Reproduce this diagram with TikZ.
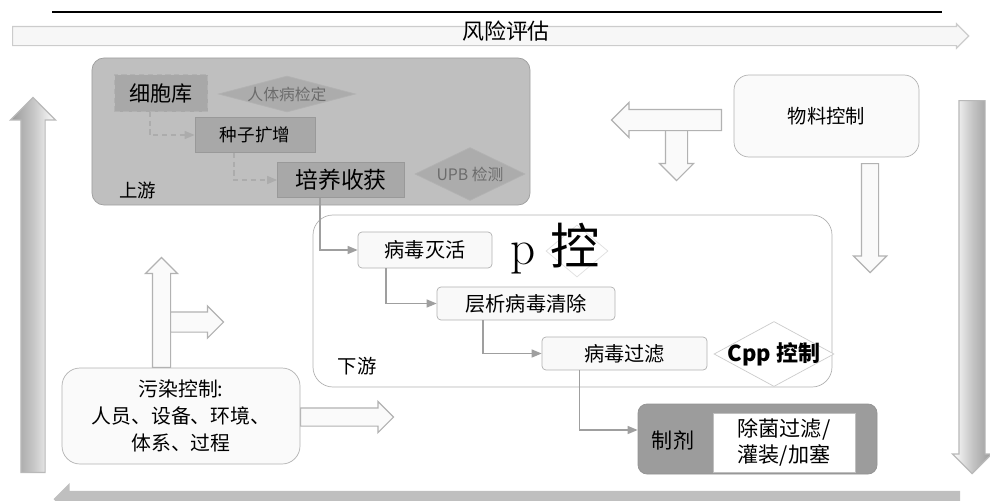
\documentclass[tikz,border=0pt]{standalone}
\usepackage{fontspec}
\usetikzlibrary{arrows.meta,shapes.geometric,shapes.arrows}
\newfontfamily\cjk{Noto Sans CJK SC}
\newcommand{\zh}[2]{\cjk\fontsize{#1pt}{#2pt}\selectfont}

\tikzset{
  stepbox/.style={rectangle, draw=gray!80, fill=gray!68, inner sep=0pt, font=\zh{12}{14}},
  stagebox/.style={rectangle, rounded corners=2.4mm, draw=gray!75, inner sep=0pt},
  flowbox/.style={rectangle, rounded corners=0.8mm, draw=gray!60, fill=gray!5, inner sep=0pt, font=\zh{11.5}{14}},
  gate/.style={diamond, inner sep=0pt, draw=gray!60, fill=gray!65},
  gatetext/.style={font=\zh{9}{11}, text=gray!85!black},
  hollow/.style={single arrow, draw=gray!60, fill=gray!4, line width=0.7pt, inner xsep=0pt},
  seedline/.style={draw=gray!65, densely dashed, line width=0.8pt, -{Triangle[length=2mm,width=1.6mm]}},
  flowline/.style={draw=gray!75, line width=0.8pt, -{Triangle[length=2mm,width=1.6mm]}}
}

\begin{document}
\begin{tikzpicture}[x=0.2mm,y=-0.2mm]
\useasboundingbox (0,0) rectangle (990,500);

% Rahmen oben, Risikobalken
\draw[line width=1.1pt] (52,12) -- (942,12);
\node[hollow, fill=gray!6, draw=gray!40, inner ysep=1.8mm, single arrow head extend=0.5mm,
      minimum height=191.2mm, anchor=tail] (riskbar) at (12,36) {};
\node[font=\zh{12.5}{15}] (risk) at (506,31) {风险评估};

% Seitenpfeile
\node[hollow, draw=gray!55, left color=gray!80, right color=white, middle color=gray!45,
      inner ysep=2.3mm, single arrow head extend=2.1mm, minimum height=75mm,
      rotate=90, anchor=tail] (leftbar) at (33,473) {};
\node[hollow, draw=gray!55, left color=white, right color=gray!80, middle color=gray!45,
      inner ysep=2.5mm, single arrow head extend=1.3mm, minimum height=74.6mm,
      rotate=-90, anchor=tail] (rightbar) at (972,100) {};
\node[hollow, draw=gray!50, fill=gray!50, inner ysep=1.4mm, single arrow head extend=1.4mm,
      minimum height=181mm, rotate=180, anchor=tail] (bottombar) at (960,499) {};

% Upstream
\node[stagebox, fill=gray!50, minimum width=87.6mm, minimum height=29.4mm] (up) at (311,131.5) {};
\node[font=\zh{10.5}{12}, anchor=west] (uplabel) at (113,190) {上游};
\node[stepbox, draw=gray!60, densely dashed, minimum width=18.6mm, minimum height=7.4mm] (cellbank) at (161,93) {细胞库};
\node[gate, minimum width=27.4mm, minimum height=7.2mm, label={[gatetext]center:人体病检定}] (qcone) at (287,94) {};
\node[stepbox, font=\zh{10}{12}, minimum width=24mm, minimum height=7mm] (seed) at (255,135) {种子扩增};
\node[stepbox, font=\zh{13}{15}, minimum width=25.4mm, minimum height=7mm] (harvest) at (341,180) {培养收获};
\node[gate, minimum width=22mm, minimum height=10.6mm, label={[gatetext]center:UPB 检测}] (upb) at (470,174) {};
\draw[seedline] ([xshift=-2.2mm]cellbank.south) |- (seed.west);
\draw[seedline] ([xshift=-4.2mm]seed.south) |- (harvest.west);

% Materialkontrolle
\node[stagebox, rounded corners=3mm, fill=gray!4, draw=gray!60, minimum width=37mm, minimum height=16.4mm,
      font=\zh{11}{13}] (material) at (826.5,116) {物料控制};
\node[hollow, inner ysep=2.1mm, single arrow head extend=1.2mm, minimum height=10.4mm,
      rotate=-90, anchor=tail] (matdown) at (676.5,128) {};
\node[hollow, inner ysep=2mm, single arrow head extend=1.4mm, minimum height=22mm,
      rotate=180, anchor=tail] (matleft) at (722,120) {};
\node[hollow, inner ysep=1.6mm, single arrow head extend=1.6mm, minimum height=21.8mm,
      rotate=-90, anchor=tail] (matdown2) at (870,163) {};

% Downstream
\node[stagebox, rounded corners=4mm, fill=white, draw=gray!60, minimum width=103.8mm, minimum height=34.4mm] (down) at (572.5,301) {};
\node[font=\zh{11}{13}] (downlabel) at (357,366) {下游};
\node[flowbox, minimum width=26.8mm, minimum height=7.2mm] (inact) at (425,250) {病毒灭活};
\node[gate, draw=gray!25, fill=white, minimum width=12.4mm, minimum height=10.4mm] (pgate) at (577,251) {};
\node[font=\fontsize{28pt}{30pt}\selectfont] (pctrl) at (555,249) {p {\cjk 控}};
\node[flowbox, minimum width=35.6mm, minimum height=6.6mm] (chrom) at (526,303.5) {层析病毒清除};
\node[flowbox, minimum width=33mm, minimum height=6.6mm] (filt) at (624.5,353.5) {病毒过滤};
\node[gate, draw=gray!40, fill=white, minimum width=24mm, minimum height=13mm,
      label={[font=\zh{12.5}{14}\bfseries]center:Cpp 控制}] (cpp) at (774,354) {};
\draw[flowline] ([xshift=-4.2mm]harvest.south) |- (inact.west);
\draw[flowline] ([xshift=-7.8mm]inact.south) |- (chrom.west);
\draw[flowline] ([xshift=-8.6mm]chrom.south) |- (filt.west);

% Formulierung
\node[stagebox, rounded corners=1.8mm, fill=gray!78, draw=gray!85, minimum width=47.8mm, minimum height=14mm] (form) at (757.5,439) {};
\node[font=\zh{12}{14}] (formlabel) at (673,440) {制剂};
\node[rectangle, fill=white, draw=gray!50, inner sep=0pt, minimum width=28.4mm, minimum height=11.8mm,
      align=center, font=\zh{12}{15}] (fill) at (784,442.5) {除菌过滤/\\灌装/加塞};
\draw[flowline] ([xshift=-9mm]filt.south) |- ([yshift=1.8mm]form.west);

% Kontamination
\node[hollow, inner ysep=1.7mm, single arrow head extend=1.4mm, minimum height=22mm,
      rotate=90, anchor=tail] (contup) at (161.5,368) {};
\node[hollow, inner ysep=1.9mm, single arrow head extend=1.2mm, minimum height=10.6mm,
      anchor=tail] (contright) at (170,322) {};
\node[hollow, inner ysep=1.7mm, single arrow head extend=1.3mm, minimum height=18.6mm,
      anchor=tail] (contright2) at (300,417) {};
\node[stagebox, rounded corners=3.6mm, fill=gray!4, draw=gray!60, minimum width=47.6mm, minimum height=19.2mm,
      align=center, font=\zh{11.3}{15.3}] (contam) at (181,416) {污染控制:\\人员、设备、环境、\\体系、过程};

\end{tikzpicture}
\end{document}
